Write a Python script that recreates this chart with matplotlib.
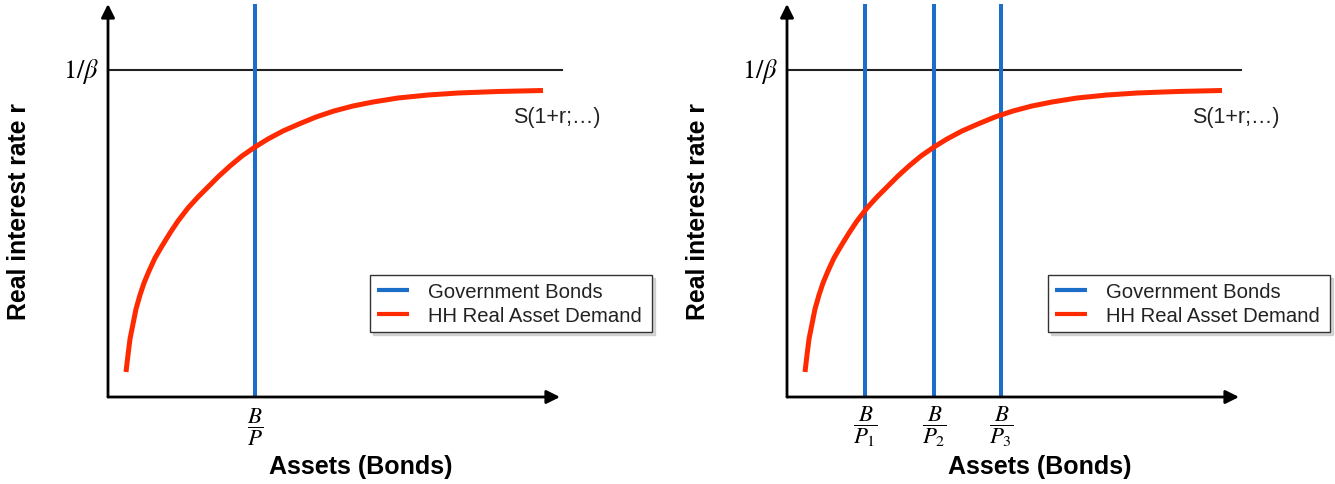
import matplotlib
matplotlib.use('Agg')
import matplotlib.pyplot as plt

plt.rcParams['font.family'] = ['Liberation Sans', 'DejaVu Sans']
plt.rcParams['mathtext.fontset'] = 'stix'

# curve (x = assets, y = real rate), same units for both panels
curve_x = [18, 20, 22, 25, 28, 32, 36, 41, 47, 54, 62, 70, 80, 90, 100, 111, 122, 134, 147,
           160, 175, 191, 208, 226, 245, 265, 290, 320, 350, 390, 435]
curve_y = [25, 42, 58, 73, 88, 102, 114, 126, 139, 151, 164, 176, 189, 200, 210, 221, 231, 241, 250,
           258, 266, 273, 280, 286, 291, 295, 299, 302, 304, 305.5, 306.5]
beta_level = 327

supply_left = [147]
supply_right = [78, 147, 214]
labels_left = [r'$\dfrac{B}{P}$']
labels_right = [r'$\dfrac{B}{P_1}$', r'$\dfrac{B}{P_2}$', r'$\dfrac{B}{P_3}$']
legends = ['Government Bonds', 'HH Real Asset Demand']

blue = '#1c6ec8'
red = '#ff2a00'

W, H = 1335, 485


def draw_panel(fig, x0, supply, labels, legend_x):
    # axes box in pixels: origin at (x0, 398), 452 wide, 393 tall
    ax = fig.add_axes([x0 / W, (H - 398) / H, 452 / W, 393 / H])
    ax.set_xlim(0, 452)
    ax.set_ylim(0, 393)
    ax.axis('off')

    arrow = dict(arrowstyle='-|>,head_length=0.4,head_width=0.2', lw=2.0, color='black',
                 mutation_scale=20, shrinkA=0, shrinkB=0)
    ax.annotate('', xy=(0, 393), xytext=(0, 0), arrowprops=arrow, annotation_clip=False)
    ax.annotate('', xy=(452, 0), xytext=(0, 0), arrowprops=arrow, annotation_clip=False)

    ax.plot([0, 454], [beta_level, beta_level], color='#222222', lw=1.5, clip_on=False)
    ax.text(-9, beta_level, r'$1/\beta$', ha='right', va='center', fontsize=19)

    handlers = []
    for i, s in enumerate(supply):
        h, = ax.plot([s, s], [0, 393], color=blue, lw=2.9, clip_on=False, solid_capstyle='butt')
        ax.text(s, -29, labels[i], ha='center', va='center', fontsize=16.5)
        if i == 0:
            handlers.append(h)
    h, = ax.plot(curve_x, curve_y, color=red, lw=3.6, solid_capstyle='butt',
                 solid_joinstyle='round', clip_on=False)
    handlers.append(h)

    ax.text(405, 281, 'S(1+r;\u2026)', ha='left', va='center', fontsize=15.5, color='#222222')
    ax.text(-89, 186, 'Real interest rate r', rotation=90, ha='center', va='center',
            fontsize=17.8, fontweight='bold')
    ax.text(253, -69, 'Assets (Bonds)', ha='center', va='center', fontsize=18, fontweight='bold')

    leg = ax.legend(handlers, legends, loc='lower left', mode='expand',
                    bbox_to_anchor=(legend_x / W, (H - 333) / H, 282 / W, 55 / H),
                    bbox_transform=fig.transFigure, borderaxespad=0, fontsize=14.6,
                    fancybox=False, shadow={'color': '0.7', 'alpha': 0.5}, framealpha=1,
                    edgecolor='#333333', handlelength=1.55, handletextpad=0.95,
                    labelspacing=0.22, borderpad=0.35)
    leg.get_frame().set_linewidth(1.0)
    for line in leg.get_lines():
        line.set_linewidth(3.0)
    for t in leg.get_texts():
        t.set_color('#222222')
    return ax


fig = plt.figure(figsize=(W / 100, H / 100), dpi=100)
draw_panel(fig, 108, supply_left, labels_left, 370)
draw_panel(fig, 787, supply_right, labels_right, 1048)
plt.savefig('out.png', dpi=100)
